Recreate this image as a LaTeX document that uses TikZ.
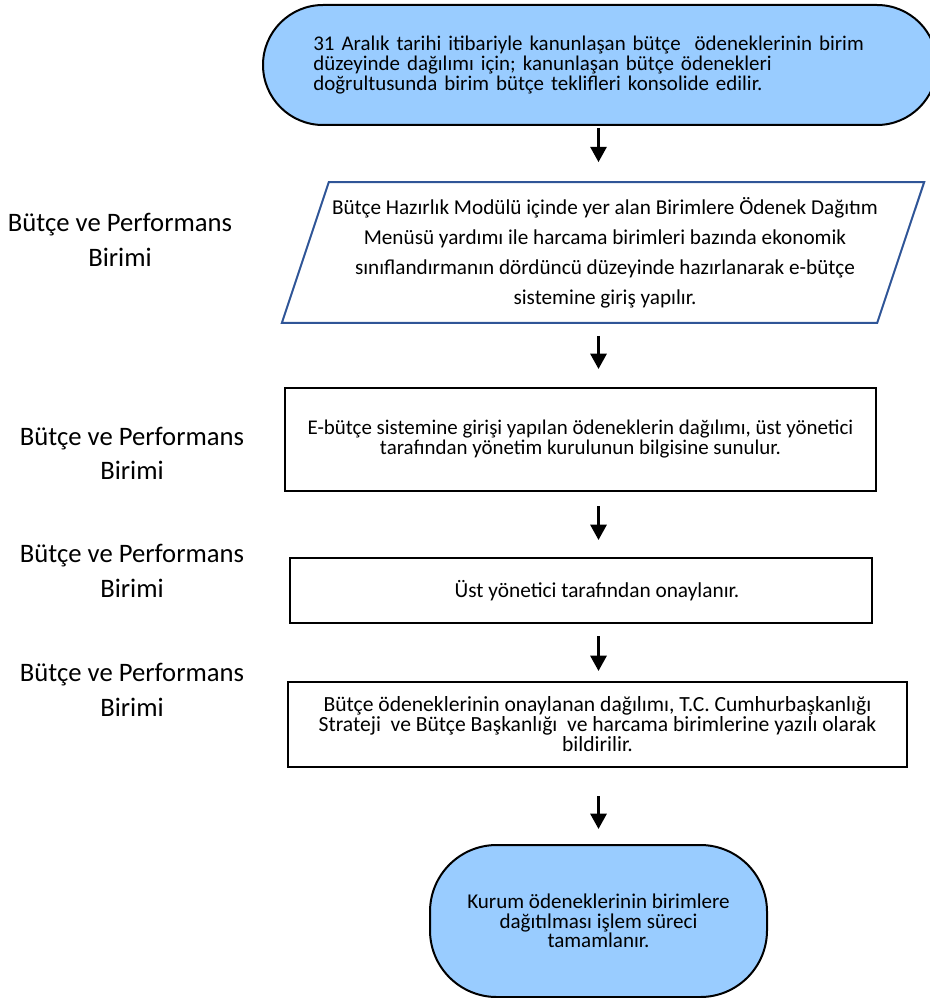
\documentclass[tikz,border=0pt]{standalone}
\usepackage{fontspec}
\setmainfont{Carlito}
\usetikzlibrary{arrows.meta}
\definecolor{kutumavi}{RGB}{153,204,255}
\definecolor{cizgimavi}{RGB}{47,85,151}

\begin{document}
\begin{tikzpicture}[x=0.75pt,y=-0.75pt,
  kutu/.style={draw,line width=1.5pt,inner sep=0pt,align=center,font=\fontsize{15.7}{15}\selectfont},
  uc/.style={kutu,fill=kutumavi},
  ok/.style={line width=2.25pt,-{Triangle[length=11.5pt,width=12pt]}},
  birim/.style={align=center,font=\fontsize{20}{26}\selectfont}]

\useasboundingbox (0,0) rectangle (929,998);

\node[uc,minimum width=505.5pt,minimum height=90pt,rounded corners=45pt,
  text width=430pt,align=left] (basla) at (600,65)
  {31 Aralık tarihi itibariyle kanunlaşan bütçe\ \ ödeneklerinin birim\\
   düzeyinde dağılımı için; kanunlaşan bütçe ödenekleri\\
   doğrultusunda birim bütçe teklifleri konsolide edilir.};

\node[kutu,draw=none,minimum width=445pt,minimum height=104pt,
  font=\fontsize{15.9}{22.5}\selectfont] (giris) at (605,252.5)
  {Bütçe Hazırlık Modülü içinde yer alan Birimlere Ödenek Dağıtım\\
   Menüsü yardımı ile harcama birimleri bazında ekonomik\\
   sınıflandırmanın dördüncü düzeyinde hazırlanarak e-bütçe\\
   sistemine giriş yapılır.};
\draw[cizgimavi,line width=1.5pt] ([xshift=16.1pt]giris.north west) -- ([xshift=16.1pt]giris.north east)
  -- ([xshift=-19.1pt]giris.south east) -- ([xshift=-19.1pt]giris.south west) -- cycle;

\node[kutu,minimum width=443.25pt,minimum height=77.25pt] (sunum) at (580.5,439.5)
  {E-bütçe sistemine girişi yapılan ödeneklerin dağılımı, üst yönetici\\
   tarafından yönetim kurulunun bilgisine sunulur.};

\node[kutu,minimum width=436.5pt,minimum height=48.75pt,
  font=\fontsize{16}{15}\selectfont] (onay) at (581,590.5)
  {\hspace*{24pt}Üst yönetici tarafından onaylanır.};

\node[kutu,minimum width=464.25pt,minimum height=63.75pt,
  font=\fontsize{16.2}{15}\selectfont] (bildir) at (597.5,724.5)
  {Bütçe ödeneklerinin onaylanan dağılımı, T.C. Cumhurbaşkanlığı\\
   Strateji\ \ ve Bütçe Başkanlığı\ \ ve harcama birimlerine yazılı olarak\\
   bildirilir.};

\node[uc,minimum width=252.75pt,minimum height=114pt,rounded corners=50pt,
  font=\fontsize{15.8}{14.8}\selectfont] (bitis) at (598.5,921)
  {Kurum ödeneklerinin birimlere\\
   dağıtılması işlem süreci\\
   tamamlanır.};

\node[birim] (birim1) at (120,240) {Bütçe ve Performans\\Birimi};
\node[birim] (birim2) at (132,453.5) {Bütçe ve Performans\\Birimi};
\node[birim] (birim3) at (132,571) {Bütçe ve Performans\\Birimi};
\node[birim] (birim4) at (132,690) {Bütçe ve Performans\\Birimi};

\draw[ok,shorten <=1.5pt,shorten >=15pt] (basla.south -| bitis.north) -- (giris.north -| bitis.north);
\draw[ok,shorten <=9.75pt,shorten >=13.5pt] (giris.south -| bitis.north) -- (sunum.north -| bitis.north);
\draw[ok,shorten <=10.5pt,shorten >=12.75pt] (sunum.south -| bitis.north) -- (onay.north -| bitis.north);
\draw[ok,shorten <=9pt,shorten >=7.5pt] (onay.south -| bitis.north) -- (bildir.north -| bitis.north);
\draw[ok,shorten <=21pt,shorten >=11.25pt] (bildir.south -| bitis.north) -- (bitis.north);

\end{tikzpicture}
\end{document}
